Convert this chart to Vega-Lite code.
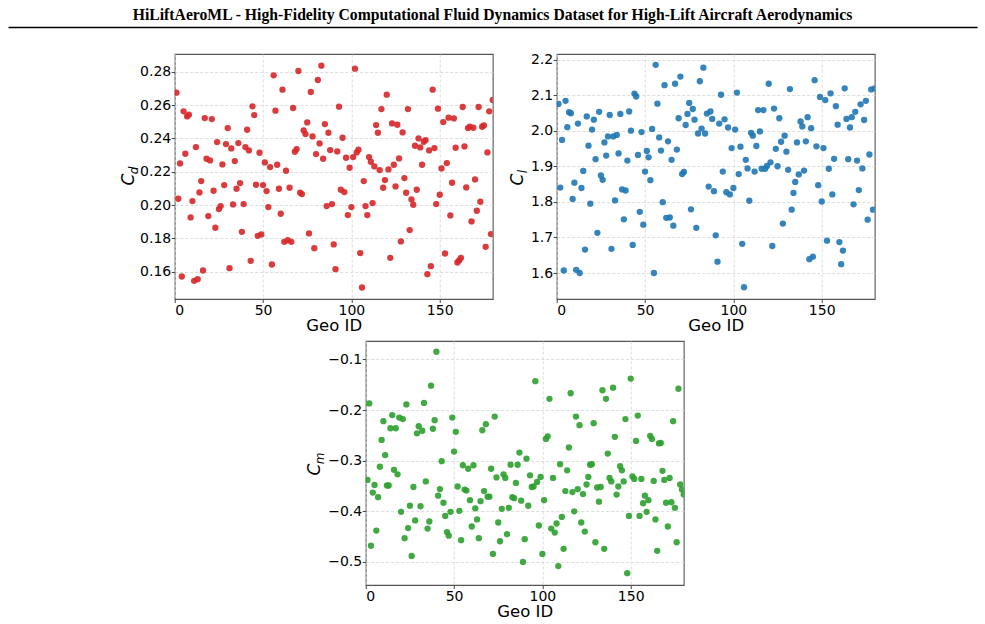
{
  "$schema": "https://vega.github.io/schema/vega-lite/v6.json",
  "background": "white",
  "padding": {"left": 8, "top": 7, "right": 8, "bottom": 0},
  "datasets": {
    "aero": [
      {"geo_id": 1, "cd": 0.2674, "cl": 2.075, "cm": -0.338},
      {"geo_id": 2, "cd": 0.2038, "cl": 1.840, "cm": -0.187},
      {"geo_id": 3, "cd": 0.2250, "cl": 1.974, "cm": -0.468},
      {"geo_id": 4, "cd": 0.1572, "cl": 1.607, "cm": -0.363},
      {"geo_id": 5, "cd": 0.2562, "cl": 2.084, "cm": -0.348},
      {"geo_id": 6, "cd": 0.2308, "cl": 2.010, "cm": -0.438},
      {"geo_id": 7, "cd": 0.2532, "cl": 2.052, "cm": -0.372},
      {"geo_id": 8, "cd": 0.2542, "cl": 2.049, "cm": -0.312},
      {"geo_id": 9, "cd": 0.1926, "cl": 1.808, "cm": -0.259},
      {"geo_id": 10, "cd": 0.2024, "cl": 1.854, "cm": -0.222},
      {"geo_id": 11, "cd": 0.1546, "cl": 1.609, "cm": -0.289},
      {"geo_id": 12, "cd": 0.2348, "cl": 2.020, "cm": -0.349},
      {"geo_id": 13, "cd": 0.1556, "cl": 1.600, "cm": -0.349},
      {"geo_id": 14, "cd": 0.2076, "cl": 1.839, "cm": -0.236},
      {"geo_id": 15, "cd": 0.2144, "cl": 1.887, "cm": -0.210},
      {"geo_id": 16, "cd": 0.1608, "cl": 1.666, "cm": -0.318},
      {"geo_id": 17, "cd": 0.2522, "cl": 2.040, "cm": -0.236},
      {"geo_id": 18, "cd": 0.2278, "cl": 1.958, "cm": -0.327},
      {"geo_id": 19, "cd": 0.1934, "cl": 1.795, "cm": -0.215},
      {"geo_id": 20, "cd": 0.2268, "cl": 2.003, "cm": -0.401},
      {"geo_id": 21, "cd": 0.2516, "cl": 2.031, "cm": -0.218},
      {"geo_id": 22, "cd": 0.2086, "cl": 1.920, "cm": -0.453},
      {"geo_id": 23, "cd": 0.1864, "cl": 1.713, "cm": -0.189},
      {"geo_id": 24, "cd": 0.2378, "cl": 2.053, "cm": -0.433},
      {"geo_id": 25, "cd": 0.1976, "cl": 1.874, "cm": -0.389},
      {"geo_id": 26, "cd": 0.1994, "cl": 1.862, "cm": -0.488},
      {"geo_id": 27, "cd": 0.2244, "cl": 1.967, "cm": -0.352},
      {"geo_id": 28, "cd": 0.2120, "cl": 1.930, "cm": -0.418},
      {"geo_id": 29, "cd": 0.2366, "cl": 1.984, "cm": -0.246},
      {"geo_id": 30, "cd": 0.2462, "cl": 2.044, "cm": -0.232},
      {"geo_id": 31, "cd": 0.1622, "cl": 1.668, "cm": -0.390},
      {"geo_id": 32, "cd": 0.2340, "cl": 1.984, "cm": -0.241},
      {"geo_id": 33, "cd": 0.2004, "cl": 1.804, "cm": -0.186},
      {"geo_id": 34, "cd": 0.2264, "cl": 1.988, "cm": -0.341},
      {"geo_id": 35, "cd": 0.2098, "cl": 1.936, "cm": -0.434},
      {"geo_id": 36, "cd": 0.2372, "cl": 2.047, "cm": -0.420},
      {"geo_id": 37, "cd": 0.2132, "cl": 1.835, "cm": -0.152},
      {"geo_id": 38, "cd": 0.1840, "cl": 1.751, "cm": -0.237},
      {"geo_id": 39, "cd": 0.2006, "cl": 1.832, "cm": -0.220},
      {"geo_id": 40, "cd": 0.2348, "cl": 1.916, "cm": -0.085},
      {"geo_id": 41, "cd": 0.2452, "cl": 2.054, "cm": -0.369},
      {"geo_id": 42, "cd": 0.2328, "cl": 2.000, "cm": -0.356},
      {"geo_id": 43, "cd": 0.1666, "cl": 1.679, "cm": -0.301},
      {"geo_id": 44, "cd": 0.2592, "cl": 2.104, "cm": -0.383},
      {"geo_id": 45, "cd": 0.2540, "cl": 2.096, "cm": -0.409},
      {"geo_id": 46, "cd": 0.2122, "cl": 1.932, "cm": -0.441},
      {"geo_id": 47, "cd": 0.1816, "cl": 1.772, "cm": -0.448},
      {"geo_id": 48, "cd": 0.2314, "cl": 1.996, "cm": -0.401},
      {"geo_id": 49, "cd": 0.1824, "cl": 1.736, "cm": -0.215},
      {"geo_id": 50, "cd": 0.2120, "cl": 1.885, "cm": -0.282},
      {"geo_id": 51, "cd": 0.2256, "cl": 1.943, "cm": -0.243},
      {"geo_id": 52, "cd": 0.2084, "cl": 1.925, "cm": -0.351},
      {"geo_id": 53, "cd": 0.1988, "cl": 1.861, "cm": -0.399},
      {"geo_id": 54, "cd": 0.2228, "cl": 2.005, "cm": -0.457},
      {"geo_id": 55, "cd": 0.1644, "cl": 1.600, "cm": -0.309},
      {"geo_id": 56, "cd": 0.2778, "cl": 2.185, "cm": -0.357},
      {"geo_id": 57, "cd": 0.2566, "cl": 2.076, "cm": -0.359},
      {"geo_id": 58, "cd": 0.2242, "cl": 1.981, "cm": -0.316},
      {"geo_id": 59, "cd": 0.2098, "cl": 1.944, "cm": -0.378},
      {"geo_id": 60, "cd": 0.1948, "cl": 1.799, "cm": -0.430},
      {"geo_id": 61, "cd": 0.2692, "cl": 2.128, "cm": -0.309},
      {"geo_id": 62, "cd": 0.1780, "cl": 1.755, "cm": -0.394},
      {"geo_id": 63, "cd": 0.2206, "cl": 1.970, "cm": -0.416},
      {"geo_id": 64, "cd": 0.1790, "cl": 1.756, "cm": -0.453},
      {"geo_id": 65, "cd": 0.2104, "cl": 1.918, "cm": -0.380},
      {"geo_id": 66, "cd": 0.1780, "cl": 1.733, "cm": -0.240},
      {"geo_id": 67, "cd": 0.2582, "cl": 2.132, "cm": -0.360},
      {"geo_id": 68, "cd": 0.2320, "cl": 1.947, "cm": -0.228},
      {"geo_id": 69, "cd": 0.2336, "cl": 2.035, "cm": -0.371},
      {"geo_id": 70, "cd": 0.2804, "cl": 2.152, "cm": -0.371},
      {"geo_id": 71, "cd": 0.2074, "cl": 1.878, "cm": -0.316},
      {"geo_id": 72, "cd": 0.2066, "cl": 1.884, "cm": -0.484},
      {"geo_id": 73, "cd": 0.2448, "cl": 2.016, "cm": -0.213},
      {"geo_id": 74, "cd": 0.2426, "cl": 2.047, "cm": -0.333},
      {"geo_id": 75, "cd": 0.2496, "cl": 2.078, "cm": -0.422},
      {"geo_id": 76, "cd": 0.1830, "cl": 1.779, "cm": -0.459},
      {"geo_id": 77, "cd": 0.2678, "cl": 2.061, "cm": -0.395},
      {"geo_id": 78, "cd": 0.2412, "cl": 2.031, "cm": -0.327},
      {"geo_id": 79, "cd": 0.1742, "cl": 1.727, "cm": -0.334},
      {"geo_id": 80, "cd": 0.2306, "cl": 1.992, "cm": -0.445},
      {"geo_id": 81, "cd": 0.2750, "cl": 2.139, "cm": -0.393},
      {"geo_id": 82, "cd": 0.2370, "cl": 2.006, "cm": -0.308},
      {"geo_id": 83, "cd": 0.2836, "cl": 2.177, "cm": -0.372},
      {"geo_id": 84, "cd": 0.2278, "cl": 1.992, "cm": -0.374},
      {"geo_id": 85, "cd": 0.2486, "cl": 2.048, "cm": -0.344},
      {"geo_id": 86, "cd": 0.1994, "cl": 1.843, "cm": -0.308},
      {"geo_id": 87, "cd": 0.2434, "cl": 2.054, "cm": -0.284},
      {"geo_id": 88, "cd": 0.2330, "cl": 2.033, "cm": -0.379},
      {"geo_id": 89, "cd": 0.2006, "cl": 1.830, "cm": -0.500},
      {"geo_id": 90, "cd": 0.1764, "cl": 1.706, "cm": -0.455},
      {"geo_id": 91, "cd": 0.1616, "cl": 1.632, "cm": -0.296},
      {"geo_id": 92, "cd": 0.2322, "cl": 2.020, "cm": -0.389},
      {"geo_id": 93, "cd": 0.2590, "cl": 2.101, "cm": -0.329},
      {"geo_id": 94, "cd": 0.2092, "cl": 1.885, "cm": -0.352},
      {"geo_id": 95, "cd": 0.2404, "cl": 2.032, "cm": -0.351},
      {"geo_id": 96, "cd": 0.2078, "cl": 1.827, "cm": -0.143},
      {"geo_id": 97, "cd": 0.2284, "cl": 2.009, "cm": -0.342},
      {"geo_id": 98, "cd": 0.1940, "cl": 1.821, "cm": -0.428},
      {"geo_id": 99, "cd": 0.2224, "cl": 1.951, "cm": -0.332},
      {"geo_id": 100, "cd": 0.1988, "cl": 1.839, "cm": -0.484},
      {"geo_id": 101, "cd": 0.2288, "cl": 2.003, "cm": -0.378},
      {"geo_id": 102, "cd": 0.2818, "cl": 2.107, "cm": -0.257},
      {"geo_id": 103, "cd": 0.2316, "cl": 1.878, "cm": -0.252},
      {"geo_id": 104, "cd": 0.2332, "cl": 1.955, "cm": -0.178},
      {"geo_id": 105, "cd": 0.1712, "cl": 1.682, "cm": -0.434},
      {"geo_id": 106, "cd": 0.1506, "cl": 1.560, "cm": -0.334},
      {"geo_id": 107, "cd": 0.2144, "cl": 1.918, "cm": -0.442},
      {"geo_id": 108, "cd": 0.1994, "cl": 1.894, "cm": -0.424},
      {"geo_id": 109, "cd": 0.1940, "cl": 1.803, "cm": -0.508},
      {"geo_id": 110, "cd": 0.2288, "cl": 1.994, "cm": -0.307},
      {"geo_id": 111, "cd": 0.2260, "cl": 1.986, "cm": -0.411},
      {"geo_id": 112, "cd": 0.2012, "cl": 1.885, "cm": -0.474},
      {"geo_id": 113, "cd": 0.2232, "cl": 1.957, "cm": -0.360},
      {"geo_id": 114, "cd": 0.2480, "cl": 2.058, "cm": -0.319},
      {"geo_id": 115, "cd": 0.2434, "cl": 1.998, "cm": -0.274},
      {"geo_id": 116, "cd": 0.2210, "cl": 1.893, "cm": -0.167},
      {"geo_id": 117, "cd": 0.2576, "cl": 2.058, "cm": -0.362},
      {"geo_id": 118, "cd": 0.2104, "cl": 1.893, "cm": -0.400},
      {"geo_id": 119, "cd": 0.2150, "cl": 1.901, "cm": -0.213},
      {"geo_id": 120, "cd": 0.2662, "cl": 2.132, "cm": -0.356},
      {"geo_id": 121, "cd": 0.2214, "cl": 1.911, "cm": -0.230},
      {"geo_id": 122, "cd": 0.1684, "cl": 1.676, "cm": -0.422},
      {"geo_id": 123, "cd": 0.2490, "cl": 2.062, "cm": -0.366},
      {"geo_id": 124, "cd": 0.2242, "cl": 1.949, "cm": -0.440},
      {"geo_id": 125, "cd": 0.2112, "cl": 1.900, "cm": -0.347},
      {"geo_id": 126, "cd": 0.2482, "cl": 2.035, "cm": -0.332},
      {"geo_id": 127, "cd": 0.2280, "cl": 1.969, "cm": -0.308},
      {"geo_id": 128, "cd": 0.1782, "cl": 1.739, "cm": -0.307},
      {"geo_id": 129, "cd": 0.2436, "cl": 1.986, "cm": -0.226},
      {"geo_id": 130, "cd": 0.2162, "cl": 1.941, "cm": -0.461},
      {"geo_id": 131, "cd": 0.2074, "cl": 1.890, "cm": -0.353},
      {"geo_id": 132, "cd": 0.2576, "cl": 2.117, "cm": -0.381},
      {"geo_id": 133, "cd": 0.1850, "cl": 1.778, "cm": -0.352},
      {"geo_id": 134, "cd": 0.2034, "cl": 1.825, "cm": -0.161},
      {"geo_id": 135, "cd": 0.2002, "cl": 1.856, "cm": -0.474},
      {"geo_id": 136, "cd": 0.2356, "cl": 1.967, "cm": -0.178},
      {"geo_id": 137, "cd": 0.2092, "cl": 1.877, "cm": -0.286},
      {"geo_id": 138, "cd": 0.2400, "cl": 2.026, "cm": -0.334},
      {"geo_id": 139, "cd": 0.2346, "cl": 2.012, "cm": -0.341},
      {"geo_id": 140, "cd": 0.2242, "cl": 1.888, "cm": -0.156},
      {"geo_id": 141, "cd": 0.2380, "cl": 1.970, "cm": -0.253},
      {"geo_id": 142, "cd": 0.2390, "cl": 2.038, "cm": -0.367},
      {"geo_id": 143, "cd": 0.1586, "cl": 1.639, "cm": -0.351},
      {"geo_id": 144, "cd": 0.2328, "cl": 2.007, "cm": -0.311},
      {"geo_id": 145, "cd": 0.1634, "cl": 1.646, "cm": -0.319},
      {"geo_id": 146, "cd": 0.2692, "cl": 2.142, "cm": -0.341},
      {"geo_id": 147, "cd": 0.2342, "cl": 1.956, "cm": -0.218},
      {"geo_id": 148, "cd": 0.2006, "cl": 1.847, "cm": -0.522},
      {"geo_id": 149, "cd": 0.2578, "cl": 2.095, "cm": -0.409},
      {"geo_id": 150, "cd": 0.2062, "cl": 1.801, "cm": -0.138},
      {"geo_id": 151, "cd": 0.2220, "cl": 1.951, "cm": -0.331},
      {"geo_id": 152, "cd": 0.2498, "cl": 2.086, "cm": -0.336},
      {"geo_id": 153, "cd": 0.1710, "cl": 1.691, "cm": -0.261},
      {"geo_id": 154, "cd": 0.2252, "cl": 1.893, "cm": -0.211},
      {"geo_id": 155, "cd": 0.2524, "cl": 2.105, "cm": -0.409},
      {"geo_id": 156, "cd": 0.1938, "cl": 1.821, "cm": -0.336},
      {"geo_id": 157, "cd": 0.2134, "cl": 1.921, "cm": -0.384},
      {"geo_id": 158, "cd": 0.2520, "cl": 2.069, "cm": -0.369},
      {"geo_id": 159, "cd": 0.2344, "cl": 2.017, "cm": -0.401},
      {"geo_id": 160, "cd": 0.1656, "cl": 1.687, "cm": -0.378},
      {"geo_id": 161, "cd": 0.1668, "cl": 1.625, "cm": -0.251},
      {"geo_id": 162, "cd": 0.1684, "cl": 1.663, "cm": -0.257},
      {"geo_id": 163, "cd": 0.2588, "cl": 2.119, "cm": -0.340},
      {"geo_id": 164, "cd": 0.2352, "cl": 2.033, "cm": -0.416},
      {"geo_id": 165, "cd": 0.2106, "cl": 1.920, "cm": -0.478},
      {"geo_id": 166, "cd": 0.2462, "cl": 2.009, "cm": -0.266},
      {"geo_id": 167, "cd": 0.2470, "cl": 2.038, "cm": -0.265},
      {"geo_id": 168, "cd": 0.1902, "cl": 1.793, "cm": -0.320},
      {"geo_id": 169, "cd": 0.2464, "cl": 2.053, "cm": -0.338},
      {"geo_id": 170, "cd": 0.2154, "cl": 1.916, "cm": -0.383},
      {"geo_id": 171, "cd": 0.1966, "cl": 1.833, "cm": -0.430},
      {"geo_id": 172, "cd": 0.2588, "cl": 2.074, "cm": -0.334},
      {"geo_id": 173, "cd": 0.2020, "cl": 1.894, "cm": -0.382},
      {"geo_id": 174, "cd": 0.2470, "cl": 2.030, "cm": -0.222},
      {"geo_id": 175, "cd": 0.2478, "cl": 2.084, "cm": -0.393},
      {"geo_id": 176, "cd": 0.1750, "cl": 1.750, "cm": -0.461},
      {"geo_id": 177, "cd": 0.2316, "cl": 1.933, "cm": -0.158},
      {"geo_id": 178, "cd": 0.2562, "cl": 2.116, "cm": -0.347},
      {"geo_id": 179, "cd": 0.1826, "cl": 1.778, "cm": -0.357},
      {"geo_id": 180, "cd": 0.2630, "cl": 2.119, "cm": -0.367}
    ]
  },
  "config": {
    "font": "DejaVu Sans",
    "view": {"stroke": "#555555", "strokeWidth": 1.1},
    "axis": {
      "domain": false,
      "labelFont": "DejaVu Sans",
      "labelFontSize": 14,
      "labelColor": "#000000",
      "labelPadding": 0.5,
      "tickColor": "#444444",
      "tickSize": 3.5,
      "tickWidth": 1,
      "gridColor": "#d9d9d9",
      "gridDash": [3, 2],
      "gridWidth": 0.9,
      "titleFont": "DejaVu Sans",
      "titleFontWeight": "normal",
      "titleColor": "#000000"
    }
  },
  "spacing": 5,
  "center": true,
  "bounds": "full",
  "vconcat": [
    {
      "width": 969,
      "height": 19,
      "view": {"stroke": null},
      "title": {
        "text": "HiLiftAeroML - High-Fidelity Computational Fluid Dynamics Dataset for High-Lift Aircraft Aerodynamics",
        "font": "Liberation Serif",
        "fontSize": 15.7,
        "fontWeight": "bold",
        "color": "#000000",
        "anchor": "middle",
        "offset": 3
      },
      "data": {"name": "aero"},
      "mark": {"type": "rule", "opacity": 0},
      "encoding": {
        "x": {
          "datum": 0,
          "type": "quantitative",
          "scale": {"domain": [0, 1]},
          "axis": {"orient": "top", "domain": true, "domainColor": "#000000", "domainWidth": 1.6, "ticks": false, "labels": false, "grid": false, "title": null}
        }
      }
    },
    {
      "hconcat": [
        {
          "width": 1,
          "height": 1,
          "view": {"stroke": null},
          "data": {"values": []},
          "mark": "rule",
          "encoding": {}
        },
        {
          "width": 318,
          "height": 245,
          "data": {"name": "aero"},
          "encoding": {
            "x": {
              "field": "geo_id",
              "type": "quantitative",
              "scale": {"domain": [0, 180], "nice": false, "zero": false},
              "axis": {"values": [0, 50, 100, 150], "title": "Geo ID", "titleFontSize": 16.5, "titlePadding": 0.5}
            }
          },
          "layer": [
            {
              "mark": {"type": "point", "filled": true, "size": 40, "opacity": 0.9, "color": "#d62728", "strokeWidth": 0, "clip": true},
              "encoding": {
                "y": {
                  "field": "cd",
                  "type": "quantitative",
                  "scale": {"domain": [0.1437, 0.2906], "nice": false, "zero": false},
                  "axis": {"values": [0.16, 0.18, 0.2, 0.22, 0.24, 0.26, 0.28], "format": ".2f", "title": "C", "titleFontStyle": "italic", "titleFontSize": 17, "titleAngle": -90, "titleAlign": "center", "titleBaseline": "middle", "titleX": -46, "titleY": 125}
                }
              }
            },
            {
              "mark": {"type": "point", "filled": true, "size": 40, "opacity": 0, "clip": true},
              "encoding": {
                "y": {
                  "field": "cd",
                  "type": "quantitative",
                  "axis": {"orient": "left", "title": "d", "labels": false, "ticks": false, "grid": false, "domain": false, "titleFontStyle": "italic", "titleFontSize": 12, "titleAngle": -90, "titleAlign": "center", "titleBaseline": "middle", "titleX": -41, "titleY": 116}
                }
              }
            }
          ],
          "resolve": {"axis": {"y": "independent"}}
        },
        {
          "width": 318,
          "height": 245,
          "data": {"name": "aero"},
          "encoding": {
            "x": {
              "field": "geo_id",
              "type": "quantitative",
              "scale": {"domain": [0, 180], "nice": false, "zero": false},
              "axis": {"values": [0, 50, 100, 150], "title": "Geo ID", "titleFontSize": 16.5, "titlePadding": 0.5}
            }
          },
          "layer": [
            {
              "mark": {"type": "point", "filled": true, "size": 40, "opacity": 0.9, "color": "#1f77b4", "strokeWidth": 0, "clip": true},
              "encoding": {
                "y": {
                  "field": "cl",
                  "type": "quantitative",
                  "scale": {"domain": [1.527, 2.2155], "nice": false, "zero": false},
                  "axis": {"values": [1.6, 1.7, 1.8, 1.9, 2.0, 2.1, 2.2], "format": ".1f", "title": "C", "titleFontStyle": "italic", "titleFontSize": 17, "titleAngle": -90, "titleAlign": "center", "titleBaseline": "middle", "titleX": -39, "titleY": 125}
                }
              }
            },
            {
              "mark": {"type": "point", "filled": true, "size": 40, "opacity": 0, "clip": true},
              "encoding": {
                "y": {
                  "field": "cl",
                  "type": "quantitative",
                  "axis": {"orient": "left", "title": "l", "labels": false, "ticks": false, "grid": false, "domain": false, "titleFontStyle": "italic", "titleFontSize": 12, "titleAngle": -90, "titleAlign": "center", "titleBaseline": "middle", "titleX": -34, "titleY": 117}
                }
              }
            }
          ],
          "resolve": {"axis": {"y": "independent"}}
        }
      ],
      "spacing": 64,
      "bounds": "flush"
    },
    {
      "hconcat": [
        {
          "width": 1,
          "height": 1,
          "view": {"stroke": null},
          "data": {"values": []},
          "mark": "rule",
          "encoding": {}
        },
        {
          "width": 318,
          "height": 244,
          "data": {"name": "aero"},
          "encoding": {
            "x": {
              "field": "geo_id",
              "type": "quantitative",
              "scale": {"domain": [0, 180], "nice": false, "zero": false},
              "axis": {"values": [0, 50, 100, 150], "title": "Geo ID", "titleFontSize": 16.5, "titlePadding": 0.5}
            }
          },
          "layer": [
            {
              "mark": {"type": "point", "filled": true, "size": 40, "opacity": 0.9, "color": "#2ca02c", "strokeWidth": 0, "clip": true},
              "encoding": {
                "y": {
                  "field": "cm",
                  "type": "quantitative",
                  "scale": {"domain": [-0.5454, -0.0638], "nice": false, "zero": false},
                  "axis": {"values": [-0.5, -0.4, -0.3, -0.2, -0.1], "format": ".1f", "title": "C", "titleFontStyle": "italic", "titleFontSize": 17, "titleAngle": -90, "titleAlign": "center", "titleBaseline": "middle", "titleX": -51, "titleY": 128}
                }
              }
            },
            {
              "mark": {"type": "point", "filled": true, "size": 40, "opacity": 0, "clip": true},
              "encoding": {
                "y": {
                  "field": "cm",
                  "type": "quantitative",
                  "axis": {"orient": "left", "title": "m", "labels": false, "ticks": false, "grid": false, "domain": false, "titleFontStyle": "italic", "titleFontSize": 12, "titleAngle": -90, "titleAlign": "center", "titleBaseline": "middle", "titleX": -46, "titleY": 117}
                }
              }
            }
          ],
          "resolve": {"axis": {"y": "independent"}}
        }
      ],
      "spacing": 64,
      "bounds": "flush"
    }
  ]
}
